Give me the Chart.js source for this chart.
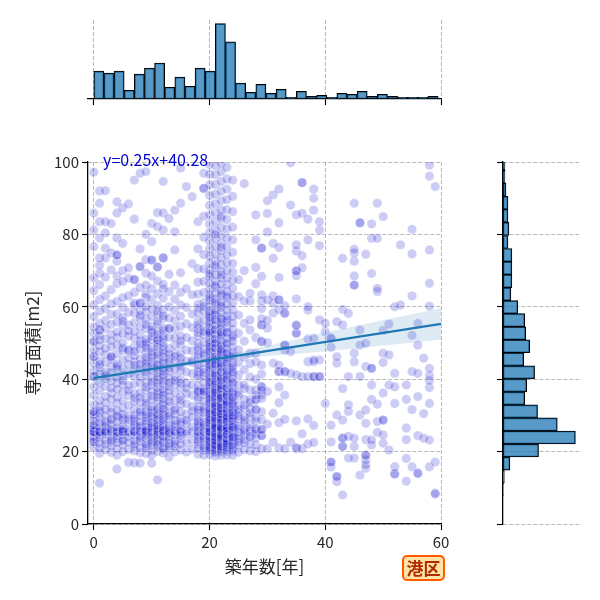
<!DOCTYPE html>
<html>
<head>
<meta charset="utf-8">
<script src="https://cdn.jsdelivr.net/npm/chart.js@4"></script>
<style>
  html, body { margin: 0; padding: 0; background: #fff; }
  #wrap { position: relative; width: 600px; height: 600px; }
  #wrap canvas { position: absolute; left: 0; top: 0; }
  #ward {
    position: absolute; left: 402px; top: 555px; width: 39px; height: 22px;
    border: 2px solid #ff5a00; border-radius: 5px; background: #ffe3a3;
    color: #b02a00; font: bold 17px "Noto Sans CJK JP", sans-serif;
    line-height: 22px; text-align: center;
  }
</style>
</head>
<body>
<div id="wrap">
  <canvas id="main" width="600" height="600"></canvas>
  <canvas id="top" width="600" height="600"></canvas>
  <canvas id="right" width="600" height="600"></canvas>
  <div id="ward">港区</div>
</div>
<script>
const $ = (s) => document.querySelector(s);

// ---- data ----
const xTicks = [0, 20, 40, 60];
const yTicks = [0, 20, 40, 60, 80, 100];

const ages = [
  0, 1, 2, 3, 4, 5, 6, 7, 8, 9, 10, 11, 12, 13, 14, 15, 16, 17, 18, 19,
  20, 21, 22, 23, 24, 25, 26, 27, 28, 29, 30, 31, 32, 33, 34, 35, 36, 37, 38, 39,
  40, 41, 42, 43, 44, 45, 46, 47, 48, 49, 50, 51, 52, 53, 54, 55, 56, 57, 58, 59,
];

// 専有面積 per 築年数 column (repeated values = overlapping dots)
const areaByAge = [
  [21.2, 22.7, 22.7, 23.5, 24.1, 25.1, 25.3, 25.5, 25.5, 26.4, 27.3, 27.3, 28.5, 29.6, 30.2, 31.0, 31.0, 33.0, 35.6, 37.9, 40.7, 40.7, 42.3, 44.4, 46.2, 46.2, 48.1, 50.4, 50.4, 52.7, 54.5, 57.3, 60.5, 64.5, 68.0, 76.6, 81.2, 85.9, 97.2],
  [11.3, 19.5, 21.0, 22.3, 23.8, 25.5, 25.5, 25.5, 26.8, 28.0, 29.2, 30.6, 32.4, 34.1, 36.8, 39.0, 41.5, 43.2, 45.0, 47.6, 49.2, 50.8, 53.6, 53.6, 55.4, 58.8, 62.0, 66.1, 69.3, 71.5, 73.5, 79.0, 83.5, 88.6, 92.0, 24.6, 31.4, 44.0, 52.0],
  [20.5, 22.0, 23.0, 24.8, 25.6, 25.6, 26.9, 28.3, 29.9, 31.6, 33.5, 35.2, 38.0, 40.2, 42.0, 44.6, 46.8, 48.5, 51.1, 54.0, 56.2, 59.5, 63.0, 68.2, 73.5, 76.2, 80.4, 83.5, 92.1, 25.4, 27.7, 41.0],
  [19.8, 21.5, 22.6, 24.0, 25.5, 25.5, 26.2, 27.5, 29.0, 30.8, 32.0, 34.4, 36.1, 37.5, 39.4, 41.8, 43.5, 45.5, 46.2, 46.2, 48.9, 50.6, 52.4, 55.1, 57.9, 60.8, 64.7, 70.2, 74.9, 83.0, 23.2, 28.8],
  [15.2, 19.0, 20.8, 22.4, 23.5, 25.2, 25.5, 25.5, 26.6, 28.1, 29.5, 31.2, 33.3, 35.0, 37.2, 38.8, 40.5, 42.8, 44.2, 47.0, 49.4, 51.5, 53.0, 55.8, 58.0, 61.5, 66.4, 68.5, 72.6, 74.3, 74.3, 79.0, 85.9, 89.0, 24.3, 30.0, 43.6],
  [20.0, 21.8, 23.3, 24.6, 25.5, 25.5, 25.5, 27.0, 28.6, 30.3, 31.9, 34.0, 36.4, 38.5, 41.0, 43.0, 45.3, 47.9, 50.0, 52.6, 54.8, 57.0, 59.8, 62.5, 67.0, 70.0, 77.5, 87.3, 22.9, 26.2, 29.3, 39.6, 48.6, 56.1],
  [17.0, 20.6, 22.5, 25.5, 25.5, 27.8, 30.1, 32.7, 35.5, 38.2, 41.4, 44.0, 48.0, 48.0, 51.9, 55.0, 58.5, 63.0, 67.9, 70.7, 88.4, 24.0, 28.9, 45.8, 36.9, 53.3],
  [16.9, 20.2, 21.4, 23.0, 24.4, 25.5, 25.5, 25.5, 26.9, 28.4, 30.0, 31.7, 33.8, 36.0, 38.6, 40.9, 42.6, 44.8, 46.5, 49.0, 51.3, 53.2, 55.6, 58.2, 60.4, 64.0, 67.5, 67.5, 84.2, 95.0, 22.1, 27.5, 34.8, 47.7, 61.0, 29.2, 43.9],
  [16.8, 19.7, 21.1, 22.8, 24.2, 25.4, 25.6, 26.5, 28.2, 29.8, 31.5, 33.6, 36.3, 38.9, 40.6, 42.9, 45.6, 48.3, 50.5, 52.1, 54.4, 56.9, 59.0, 61.0, 61.0, 65.3, 71.1, 71.1, 76.0, 96.9, 23.6, 27.1, 35.0, 44.1, 57.6, 30.9, 49.7],
  [19.4, 20.9, 22.2, 23.7, 25.0, 25.5, 25.5, 25.5, 26.7, 27.9, 29.4, 31.0, 32.6, 34.7, 36.9, 39.1, 41.2, 43.4, 45.1, 47.3, 49.5, 51.0, 53.9, 56.4, 58.6, 62.6, 66.0, 69.3, 73.0, 80.0, 97.3, 24.5, 28.5, 37.8, 46.0, 55.1, 21.6, 30.2, 42.0, 50.2, 63.5, 33.4, 48.7, 25.9, 44.4, 60.1],
  [16.8, 20.3, 21.7, 23.1, 24.8, 25.5, 25.5, 26.3, 27.6, 29.1, 30.7, 32.3, 34.3, 36.6, 38.3, 40.4, 42.4, 44.6, 46.7, 48.8, 50.9, 52.9, 54.6, 57.3, 59.5, 62.0, 65.0, 68.5, 72.9, 72.9, 78.0, 83.0, 24.0, 28.0, 31.5, 39.3, 45.9, 53.6, 22.5, 26.9, 35.4, 43.7, 51.8, 47.6, 29.8, 19.0],
  [12.2, 20.0, 21.3, 22.6, 24.0, 25.5, 25.5, 25.5, 26.6, 27.8, 29.2, 30.5, 32.2, 33.9, 35.8, 37.7, 39.8, 41.7, 43.6, 45.5, 47.4, 49.8, 50.8, 50.8, 53.1, 55.3, 57.9, 60.4, 63.6, 67.1, 71.0, 71.0, 82.1, 86.0, 23.4, 28.7, 31.7, 38.8, 46.6, 52.3, 21.9, 26.1, 34.9, 42.7, 48.9, 55.9, 24.7, 30.1, 36.5, 44.1, 58.8, 40.6, 27.2],
  [19.6, 21.0, 22.4, 23.9, 25.5, 25.5, 25.5, 26.8, 28.2, 29.6, 31.1, 32.9, 34.6, 36.4, 38.7, 40.8, 42.2, 44.3, 46.1, 48.0, 50.1, 52.0, 54.2, 56.8, 59.2, 62.4, 66.2, 73.5, 73.5, 81.2, 85.9, 94.6, 22.8, 27.4, 30.4, 37.2, 45.0, 51.2, 24.3, 26.0, 33.5, 41.3, 49.0, 57.5, 20.6, 28.9, 35.6, 43.0, 53.5, 47.2, 39.5, 65.0, 31.8],
  [18.5, 20.7, 22.2, 24.1, 25.5, 25.5, 27.1, 28.8, 30.6, 32.5, 35.2, 38.0, 40.3, 43.1, 45.7, 48.4, 51.6, 54.0, 56.9, 60.0, 64.2, 69.0, 84.4, 23.3, 26.4, 29.9, 36.8, 42.2, 47.0, 54.0, 33.9, 25.1, 44.8, 39.0, 21.5],
  [19.9, 21.4, 23.0, 24.6, 25.5, 25.5, 26.9, 28.6, 30.2, 32.0, 34.1, 36.2, 38.5, 40.6, 42.8, 44.9, 47.1, 49.3, 51.4, 53.8, 56.2, 58.9, 62.1, 66.0, 75.7, 80.7, 86.7, 22.2, 27.6, 31.4, 39.6, 46.3],
  [20.4, 22.0, 23.6, 25.3, 25.5, 27.3, 29.1, 31.0, 33.1, 35.3, 37.6, 40.0, 42.3, 44.5, 47.0, 49.5, 52.0, 54.6, 57.4, 60.5, 64.0, 69.4, 88.6, 98.3, 24.4, 28.2, 34.2, 43.5, 50.6, 38.9, 26.0, 45.9],
  [19.9, 22.3, 24.9, 25.5, 27.7, 30.3, 33.2, 36.0, 39.0, 42.0, 45.0, 48.1, 51.5, 55.3, 59.8, 65.0, 93.2, 28.6, 37.5],
  [20.7, 23.2, 25.5, 26.8, 29.5, 32.4, 35.6, 38.4, 41.5, 44.6, 47.8, 50.6, 54.2, 58.0, 63.3, 71.9, 90.4, 31.2, 45.1],
  [19.3, 20.8, 22.0, 23.4, 24.8, 25.5, 25.5, 26.6, 27.8, 29.2, 30.7, 32.3, 34.2, 36.2, 38.1, 40.2, 42.0, 44.0, 45.9, 47.9, 49.9, 51.9, 53.9, 56.0, 58.3, 60.7, 63.5, 66.8, 70.5, 76.0, 83.5, 22.7, 27.2, 31.5, 37.0, 43.0, 48.8, 55.0, 24.2, 28.4, 35.0, 41.1, 46.6, 52.8, 59.6, 36.6],
  [19.0, 20.3, 21.6, 22.9, 24.2, 25.4, 25.5, 26.7, 28.0, 29.4, 30.8, 32.3, 33.9, 35.6, 37.3, 39.1, 40.9, 42.7, 44.5, 46.4, 48.3, 50.2, 52.2, 54.3, 56.5, 58.8, 61.2, 63.9, 67.0, 70.4, 74.4, 79.2, 85.0, 92.7, 92.7, 96.9, 21.0, 23.6, 27.4, 31.6, 36.6, 41.8, 47.1, 53.2, 60.0, 36.6],
  [19.2, 20.0, 20.8, 21.5, 22.3, 23.0, 23.8, 24.5, 25.3, 26.0, 26.8, 27.5, 28.3, 29.1, 30.0, 31.0, 32.0, 33.0, 34.1, 35.2, 36.3, 37.5, 38.6, 39.8, 41.0, 42.2, 43.4, 44.6, 45.8, 47.0, 48.2, 49.5, 50.8, 52.1, 53.4, 54.7, 56.0, 57.4, 58.8, 60.2, 61.7, 63.2, 64.8, 66.5, 68.3, 70.1, 72.0, 74.0, 76.0, 78.2, 80.5, 82.9, 85.4, 88.0, 90.8, 93.7, 96.6, 99.3, 20.4, 21.9, 23.4, 24.9, 25.6, 26.4, 27.9, 29.5, 31.5, 33.5, 35.7, 38.0, 40.4, 42.8, 45.2, 47.6, 50.1, 52.7, 55.3, 58.1, 21.1, 22.7, 24.1, 25.5, 28.7, 30.5, 34.6, 39.2, 44.0, 48.9, 53.0, 57.0, 62.5, 69.0],
  [18.8, 19.6, 20.3, 21.0, 21.7, 22.4, 23.1, 23.8, 24.5, 25.2, 25.9, 26.6, 27.3, 28.0, 28.8, 29.6, 30.4, 31.3, 32.2, 33.1, 34.0, 35.0, 36.0, 37.0, 38.1, 39.2, 40.3, 41.4, 42.5, 43.7, 44.9, 46.1, 47.3, 48.5, 49.7, 51.0, 52.3, 53.6, 54.9, 56.3, 57.7, 59.1, 60.6, 62.1, 63.7, 65.3, 67.0, 68.8, 70.7, 72.6, 74.6, 76.7, 78.9, 81.2, 83.6, 86.0, 88.5, 91.1, 93.8, 96.5, 99.0, 19.9, 21.3, 22.7, 24.1, 25.5, 26.9, 28.4, 30.0, 31.7, 33.5, 35.4, 37.4, 39.5, 41.7, 43.9, 46.2, 48.6, 51.1, 53.7, 56.4, 20.6, 22.0, 23.4, 24.8, 26.2, 27.7, 29.3, 31.0, 32.8, 34.7, 36.7, 38.8, 41.0, 45.4, 50.0, 21.8, 24.0, 26.5, 29.0, 32.5, 36.2, 23.0, 25.0, 27.0, 30.8, 44.2, 58.4, 61.4, 66.0, 71.5, 80.0],
  [19.0, 19.8, 20.5, 21.2, 21.9, 22.6, 23.3, 24.0, 24.7, 25.4, 26.1, 26.8, 27.5, 28.3, 29.1, 29.9, 30.7, 31.6, 32.5, 33.4, 34.4, 35.4, 36.4, 37.5, 38.6, 39.7, 40.8, 41.9, 43.1, 44.3, 45.5, 46.7, 47.9, 49.1, 50.4, 51.7, 53.0, 54.3, 55.6, 57.0, 58.4, 59.8, 61.3, 62.9, 64.5, 66.2, 67.9, 69.7, 71.6, 73.5, 75.5, 77.6, 79.8, 82.0, 84.4, 86.8, 89.3, 91.9, 94.6, 97.3, 99.6, 20.1, 21.5, 22.9, 24.3, 25.7, 27.1, 28.6, 30.2, 31.9, 33.7, 35.6, 37.6, 39.7, 42.0, 44.4, 46.9, 49.5, 52.2, 55.0, 20.8, 22.2, 23.6, 25.0, 26.4, 27.9, 29.5, 31.2, 33.0, 35.0, 37.1, 40.2, 43.5, 47.5, 52.8, 21.4, 23.8, 26.0, 28.8, 32.0, 34.8, 24.4, 26.6, 30.4, 38.2, 48.3, 56.6, 60.4, 63.6, 68.8, 76.4, 85.0],
  [19.1, 20.0, 20.9, 21.8, 22.7, 23.6, 24.5, 25.4, 26.3, 27.2, 28.1, 29.0, 30.0, 31.0, 32.0, 33.1, 34.2, 35.3, 36.5, 37.7, 38.9, 40.2, 41.5, 42.8, 44.1, 45.5, 46.9, 48.3, 49.7, 51.2, 52.7, 54.2, 55.8, 57.4, 59.0, 60.7, 62.4, 64.2, 66.1, 68.0, 70.0, 72.1, 74.3, 76.6, 79.0, 81.5, 84.1, 86.8, 89.6, 92.5, 95.3, 98.5, 20.4, 21.9, 23.4, 24.9, 26.5, 28.1, 29.8, 31.6, 33.5, 35.5, 37.6, 39.8, 42.2, 44.7, 47.3, 50.0, 53.0, 21.2, 22.9, 24.7, 26.6, 28.6, 30.7, 32.9, 35.8, 41.0, 46.0, 56.5, 22.3, 25.8, 29.4, 33.8, 63.0],
  [19.0, 20.1, 21.2, 22.3, 23.4, 24.5, 25.6, 26.7, 27.8, 28.9, 30.0, 31.1, 32.3, 33.5, 34.7, 36.0, 37.3, 38.6, 40.0, 41.4, 42.8, 44.3, 45.8, 47.3, 48.9, 50.5, 52.1, 53.8, 55.5, 57.3, 59.1, 61.0, 63.0, 65.1, 67.3, 69.6, 72.0, 75.0, 78.5, 82.0, 86.3, 90.5, 95.0, 20.6, 22.8, 25.0, 27.2, 29.4, 31.7, 34.1, 36.6, 39.2, 42.0, 46.5, 51.5, 21.7, 23.9, 26.1, 28.4, 30.8, 33.0, 24.0, 26.8, 29.9, 35.0, 43.5],
  [19.8, 21.6, 23.5, 25.2, 27.0, 28.9, 30.8, 33.0, 35.5, 36.2, 38.4, 41.2, 44.6, 48.1, 52.7, 57.7, 62.8, 67.5, 24.3, 26.4, 29.8, 31.5, 22.6],
  [20.5, 22.4, 24.6, 26.1, 27.8, 29.6, 31.9, 34.5, 37.4, 38.4, 42.6, 46.0, 50.5, 55.4, 61.6, 70.0, 94.0, 23.2, 25.5, 28.6, 32.8],
  [20.2, 22.0, 23.8, 25.6, 27.6, 29.7, 31.9, 34.3, 37.0, 40.6, 44.3, 47.2, 53.6, 56.4, 61.6, 63.7, 26.3, 24.2, 30.6, 33.6],
  [20.0, 21.8, 23.7, 26.1, 26.1, 28.3, 29.3, 31.6, 31.6, 34.3, 34.3, 37.0, 40.0, 44.8, 47.2, 51.5, 66.4, 70.9, 78.5, 85.4, 24.9, 35.6],
  [20.8, 24.4, 24.4, 26.1, 26.1, 28.8, 31.0, 34.7, 35.6, 37.9, 37.9, 37.0, 41.4, 43.9, 50.4, 50.4, 55.0, 55.0, 56.7, 59.5, 61.6, 63.3, 68.4, 76.2, 76.2],
  [20.8, 27.6, 36.6, 50.1, 54.1, 56.3, 61.9, 80.7, 85.8, 89.3],
  [22.6, 30.6, 44.4, 61.0, 63.0, 73.4, 77.5, 90.9, 58.3],
  [21.0, 28.0, 33.5, 37.9, 42.1, 42.1, 43.9, 59.2, 61.9, 61.9, 68.1, 76.4, 83.2, 92.5],
  [20.8, 28.9, 35.6, 42.1, 42.1, 49.4, 49.4, 58.2, 58.2, 48.1, 60.3],
  [22.6, 41.6, 47.6, 88.1, 99.8],
  [20.8, 21.1, 28.5, 41.2, 52.7, 52.7, 54.9, 54.9, 62.2, 68.6, 69.9, 69.9, 75.4, 77.1, 85.4],
  [20.8, 24.9, 40.7, 70.8, 74.1, 85.8, 94.3, 94.3],
  [22.1, 29.0, 40.7, 44.8, 51.1, 59.1, 60.0, 78.5, 84.2],
  [22.5, 27.2, 44.8, 45.3, 40.7, 40.7, 51.3, 86.7, 90.0, 92.5],
  [40.7, 40.7, 45.3, 56.4, 76.9, 81.2, 83.5],
  [33.3, 53.1, 55.4],
  [15.7, 17.1, 17.1, 22.7, 27.3, 48.8, 51.3, 51.3],
  [11.7, 13.1, 13.1, 30.1, 44.4, 46.2, 55.9],
  [8.0, 21.4, 21.4, 23.7, 23.7, 28.7, 37.4, 55.0, 59.3, 73.4],
  [18.2, 24.2, 31.1, 32.9, 40.7, 58.2],
  [18.2, 21.4, 23.7, 44.8, 47.2, 66.0, 66.0, 68.5, 72.6, 74.9, 75.9, 88.6],
  [13.5, 30.1, 40.7, 49.4, 53.6, 83.2, 83.2],
  [15.4, 16.4, 17.7, 19.0, 19.0, 23.3, 27.8, 31.5, 43.5, 49.9, 74.5],
  [21.8, 23.2, 34.4, 38.4, 43.0, 43.0, 69.2, 78.9, 82.9],
  [25.3, 28.3, 33.1, 64.2, 65.1, 78.9, 88.6],
  [22.3, 24.6, 28.7, 28.7, 36.2, 44.6, 47.2, 53.5, 84.9],
  [20.4, 38.4, 46.7, 55.2],
  [13.8, 13.8, 15.8, 33.3, 37.9, 41.6, 60.0],
  [60.5, 77.1],
  [11.8, 18.1, 23.3, 26.5, 34.4, 38.4],
  [15.8, 31.6, 42.1, 52.1, 63.0, 74.6, 81.4],
  [14.0, 14.0, 24.4, 35.2, 41.6, 49.4, 55.4],
  [23.7, 30.5, 45.8],
  [15.8, 23.2, 33.3, 37.7, 39.6, 41.0, 43.0, 60.2, 66.5, 75.7, 96.1, 99.1],
  [8.5, 8.3, 17.1, 93.2],
];

// regression line and its confidence band
const fitX = [0, 60];
const fitY = [40.28, 55.28];
const bandX = [0, 10, 20, 30, 40, 50, 60];
const bandUpper = [42.28, 43.88, 45.88, 49.18, 52.88, 56.28, 59.68];
const bandLower = [38.28, 41.68, 44.68, 46.38, 47.68, 49.28, 50.88];
const fitLabel = "y=0.25x+40.28";

// marginal histograms (bar heights)
const ageBinStart = 0, ageBinWidth = 1.75;
const ageCounts = [83, 77, 83, 26, 74, 92, 107, 35, 65, 38, 92, 83, 224, 170, 47, 20, 44, 17,
                   29, 5, 23, 8, 11, 5, 17, 14, 23, 8, 14, 8, 5, 5, 5, 8];
const areaBinStart = 7.7, areaBinWidth = 3.6;
const areaCounts = [1, 4, 21, 108, 220, 165, 105, 66, 72, 96, 63, 81, 69, 66, 45, 24, 27,
                    27, 27, 15, 18, 15, 15, 9, 6, 6];

// ---- styling ----
const FONT = '"Noto Sans CJK JP", "Noto Sans", sans-serif';
Chart.defaults.font.family = FONT;
Chart.defaults.color = "#262626";
Chart.defaults.animation = false;
Chart.defaults.events = [];
Chart.defaults.plugins.legend.display = false;
Chart.defaults.plugins.tooltip.enabled = false;

const histFill = "rgba(31,119,180,0.75)";
const gridOpts = { color: "#b0b0b0", lineWidth: 0.9, tickLength: 6, tickColor: "#000", tickWidth: 1.1, tickBorderDash: [] };
const borderOpts = { display: true, color: "#000", width: 1.3, dash: [4, 2] };
const fixTicks = (vals) => (s) => { s.ticks = vals.map((v) => ({ value: v })); };

const points = [];
ages.forEach((a, i) => areaByAge[i].forEach((v) => points.push({ x: a, y: v })));

const textPlugin = {
  id: "fitText",
  afterDraw(c) {
    const { ctx, scales } = c;
    ctx.save();
    ctx.font = "16px " + FONT;
    ctx.fillStyle = "#0000cd";
    ctx.textBaseline = "middle";
    ctx.fillText(fitLabel, scales.x.getPixelForValue(1.6), scales.y.getPixelForValue(100.5));
    ctx.restore();
  },
};

// ---- main scatter ----
new Chart($("#main"), {
  type: "scatter",
  data: {
    datasets: [
      {
        data: points,
        order: 3,
        clip: 0,
        pointRadius: 4.7,
        pointBorderWidth: 1.2,
        backgroundColor: "rgba(0,0,205,0.2)",
        borderColor: "rgba(255,255,255,0.25)",
      },
      {
        type: "line",
        data: bandX.map((x, i) => ({ x, y: bandUpper[i] })),
        order: 2,
        borderWidth: 0,
        pointRadius: 0,
        tension: 0.4,
        fill: "+1",
        backgroundColor: "rgba(31,119,180,0.15)",
      },
      {
        type: "line",
        data: bandX.map((x, i) => ({ x, y: bandLower[i] })),
        order: 2,
        borderWidth: 0,
        pointRadius: 0,
        tension: 0.4,
        fill: false,
      },
      {
        type: "line",
        data: fitX.map((x, i) => ({ x, y: fitY[i] })),
        order: 1,
        borderColor: "#1f77b4",
        borderWidth: 2.2,
        pointRadius: 0,
        fill: false,
      },
    ],
  },
  options: {
    responsive: false,
    devicePixelRatio: 1,
    layout: { padding: { left: 0, top: 162, right: 159, bottom: 0 } },
    scales: {
      x: {
        type: "linear", min: -1, max: 60, z: 1,
        afterBuildTicks: fixTicks(xTicks),
        afterFit: (s) => { s.height = 76; },
        grid: gridOpts, border: borderOpts,
        ticks: { font: { size: 15 }, padding: 3, color: "#262626" },
        title: { display: true, text: "築年数[年]", font: { size: 17 }, color: "#262626", padding: { top: 0, bottom: 23 } },
      },
      y: {
        type: "linear", min: 0, max: 100, z: 1,
        afterBuildTicks: fixTicks(yTicks),
        afterFit: (s) => { s.width = 88; },
        grid: gridOpts, border: borderOpts,
        ticks: { font: { size: 15 }, padding: 3, color: "#262626" },
        title: { display: true, text: "専有面積[m2]", font: { size: 17 }, color: "#262626", padding: { top: 22, bottom: 0 } },
      },
    },
  },
  plugins: [textPlugin],
});

// ---- top marginal: 築年数 histogram ----
new Chart($("#top"), {
  type: "bar",
  data: {
    datasets: [{
      data: ageCounts.map((n, i) => ({ x: ageBinStart + (i + 0.5) * ageBinWidth, y: n })),
      backgroundColor: histFill,
      borderColor: "#000",
      borderWidth: 1,
      borderSkipped: false,
      barPercentage: 1,
      categoryPercentage: 1,
    }],
  },
  options: {
    responsive: false,
    devicePixelRatio: 1,
    layout: { padding: { left: 88, top: 20, right: 159, bottom: 491 } },
    scales: {
      x: {
        type: "linear", min: -1, max: 60, offset: false, z: 1,
        afterBuildTicks: fixTicks(xTicks),
        afterFit: (s) => { s.height = 10; },
        grid: { ...gridOpts, offset: false }, border: borderOpts,
        ticks: { display: false },
      },
      y: { min: 0, max: 235, display: false },
    },
  },
});

// ---- right marginal: 専有面積 histogram ----
new Chart($("#right"), {
  type: "bar",
  data: {
    datasets: [{
      data: areaCounts.map((n, i) => ({ y: areaBinStart + (i + 0.5) * areaBinWidth, x: n })),
      backgroundColor: histFill,
      borderColor: "#000",
      borderWidth: 1,
      borderSkipped: false,
      barPercentage: 1,
      categoryPercentage: 1,
    }],
  },
  options: {
    indexAxis: "y",
    responsive: false,
    devicePixelRatio: 1,
    layout: { padding: { left: 497, top: 162, right: 21, bottom: 76 } },
    scales: {
      y: {
        type: "linear", min: 0, max: 100, offset: false, z: 1,
        afterBuildTicks: fixTicks(yTicks),
        afterFit: (s) => { s.width = 6; },
        grid: { ...gridOpts, offset: false }, border: borderOpts,
        ticks: { display: false },
      },
      x: { type: "linear", min: 0, max: 231, display: false },
    },
  },
});
</script>
</body>
</html>
